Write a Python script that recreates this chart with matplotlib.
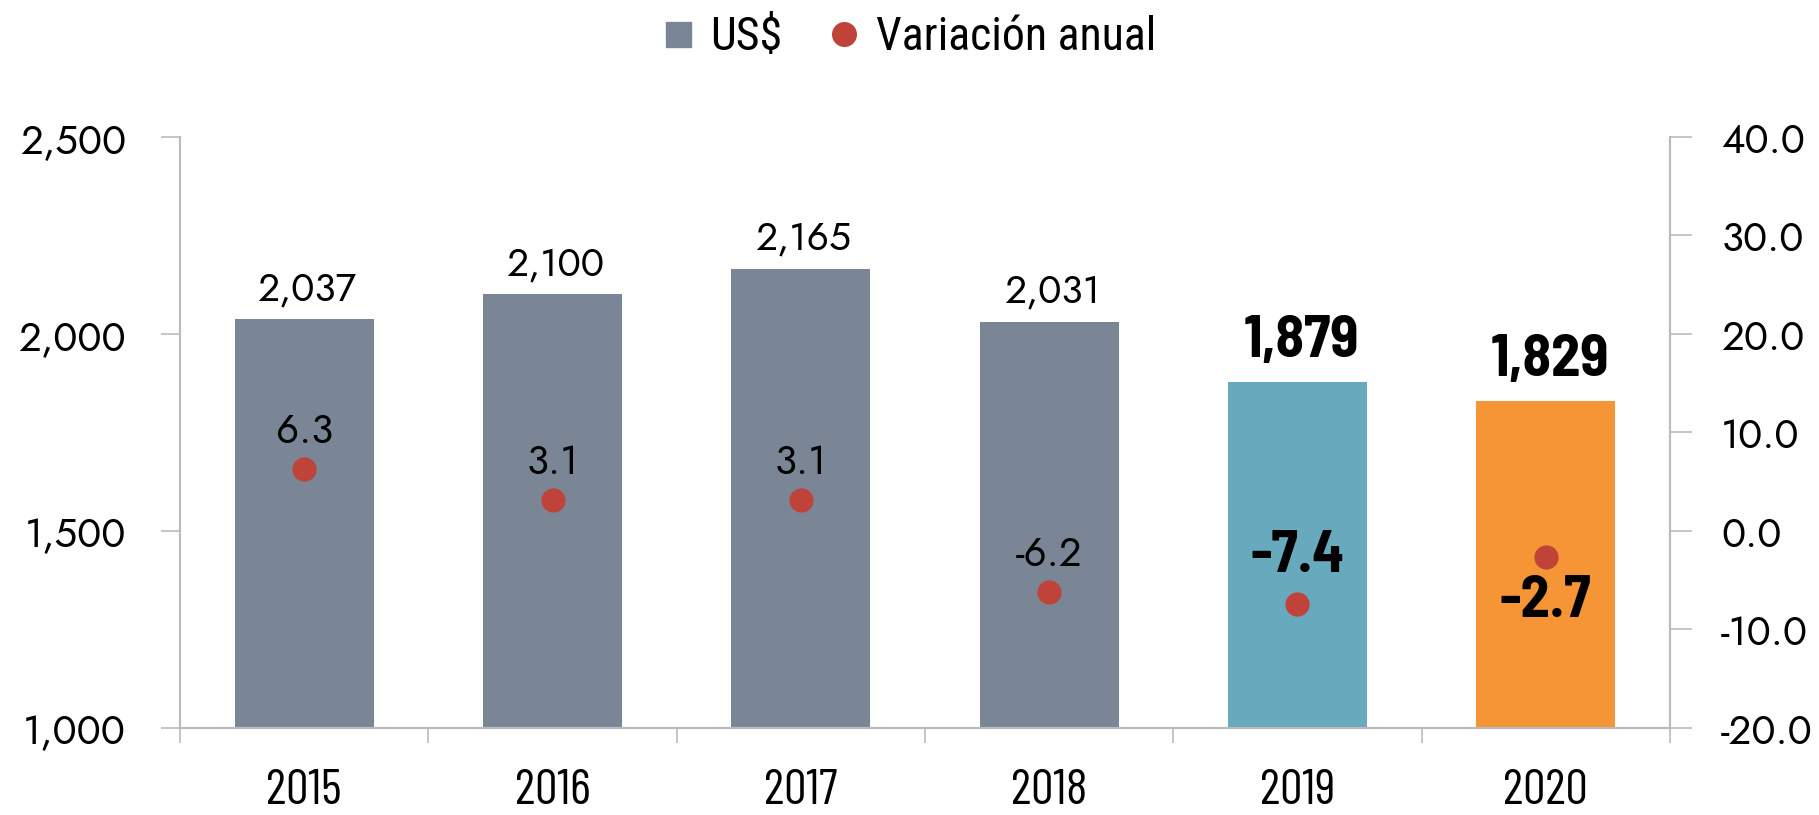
import numpy as np
import matplotlib.pyplot as plt
from matplotlib.lines import Line2D

plt.rcParams['font.family'] = ['Jost', 'Poppins', 'Liberation Sans', 'DejaVu Sans']

# datos
years = ['2015', '2016', '2017', '2018', '2019', '2020']
usd = [2037, 2100, 2165, 2031, 1879, 1829]
variacion = [6.3, 3.1, 3.1, -6.2, -7.4, -2.7]
bar_colors = ['#7A8696', '#7A8696', '#7A8696', '#7A8696', '#67A9BD', '#F59535']
dot_color = '#C0433A'
axis_gray = '#BBBBBB'
bold_family = ['Barlow Semi Condensed', 'DejaVu Sans']

fig = plt.figure(figsize=(18.19, 8.15), dpi=100)
ax = fig.add_axes([0.099, 0.107, 0.819, 0.725])
ax2 = ax.twinx()

x = np.arange(len(years))
ax.bar(x, usd, width=0.56, color=bar_colors, zorder=2)
ax2.scatter(x, variacion, s=270, color=dot_color, zorder=3)

ax.set_xlim(-0.5, len(years) - 0.5)
ax.set_ylim(1000, 2500)
ax2.set_ylim(-20, 40)
ax.set_yticks([1000, 1500, 2000, 2500])
ax.set_yticklabels(['1,000', '1,500', '2,000', '2,500'])
ax2.set_yticks([-20, -10, 0, 10, 20, 30, 40])
ax2.set_yticklabels(['%.1f' % v for v in [-20, -10, 0, 10, 20, 30, 40]])

# eje x: marcas entre categorias, etiquetas centradas
ax.set_xticks(np.arange(-0.5, len(years), 1.0))
ax.set_xticklabels([])
ax.set_xticks(x, minor=True)
ax.set_xticklabels(years, minor=True, family=['Barlow Condensed', 'DejaVu Sans'],
                   fontweight='normal')
ax.tick_params(axis='x', which='major', length=11, width=1.2, color=axis_gray)
ax.tick_params(axis='x', which='minor', length=0, pad=30, labelsize=36)

ax.tick_params(axis='y', length=14, width=1.2, color=axis_gray, pad=25, labelsize=29)
ax2.tick_params(axis='y', length=16, width=1.2, color=axis_gray, pad=21, labelsize=29)

for a in (ax, ax2):
    a.spines['top'].set_visible(False)
    for s in ('left', 'right', 'bottom'):
        a.spines[s].set_color(axis_gray)
        a.spines[s].set_linewidth(1.5)

# etiquetas de barras
for i, v in enumerate(usd):
    if i >= 4:
        ax.annotate('{:,}'.format(v), (x[i], v), xytext=(3, 10), textcoords='offset points',
                    ha='center', va='bottom', fontsize=42, fontweight='bold', family=bold_family)
    else:
        ax.annotate('{:,}'.format(v), (x[i], v), xytext=(2, 8), textcoords='offset points',
                    ha='center', va='bottom', fontsize=28)

# etiquetas de variacion
for i, v in enumerate(variacion):
    if i == 4:
        ax2.annotate('%.1f' % v, (x[i], v), xytext=(0, 34), textcoords='offset points',
                     ha='center', va='center', fontsize=42, fontweight='bold', family=bold_family)
    elif i == 5:
        ax2.annotate('%.1f' % v, (x[i], v), xytext=(0, -32), textcoords='offset points',
                     ha='center', va='center', fontsize=42, fontweight='bold', family=bold_family)
    else:
        ax2.annotate('%.1f' % v, (x[i], v), xytext=(0, 27), textcoords='offset points',
                     ha='center', va='center', fontsize=29)

handles = [Line2D([], [], marker='s', linestyle='', color='#7A8696', markersize=18),
           Line2D([], [], marker='o', linestyle='', color=dot_color, markersize=17)]
fig.legend(handles, ['US$', 'Variación anual'], loc='center', bbox_to_anchor=(0.5, 0.955),
           ncol=2, frameon=False, handlelength=0.7, handletextpad=0.35, columnspacing=1.0,
           prop={'family': ['Roboto Condensed', 'DejaVu Sans'], 'size': 33})

plt.savefig('out.png', dpi=100)
